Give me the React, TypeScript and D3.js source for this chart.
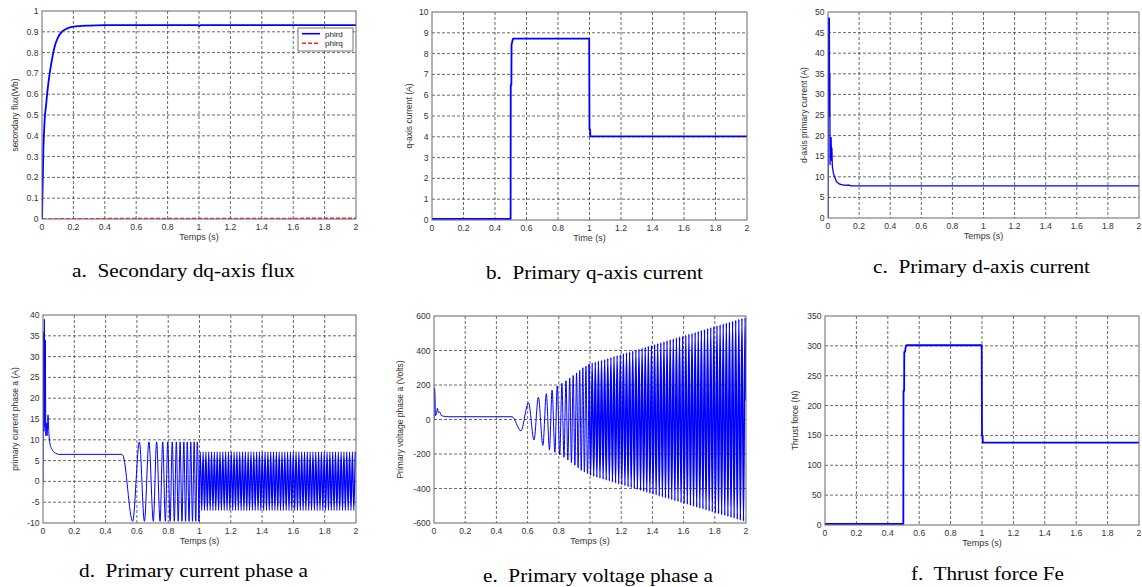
import React from "react";
import * as d3 from "d3";

type Pt = [number, number];

// axis ticks
const timeTicks = [0, 0.2, 0.4, 0.6, 0.8, 1, 1.2, 1.4, 1.6, 1.8, 2];
const fluxTicks = [0, 0.1, 0.2, 0.3, 0.4, 0.5, 0.6, 0.7, 0.8, 0.9, 1];
const iqTicks = [0, 1, 2, 3, 4, 5, 6, 7, 8, 9, 10];
const idTicks = [0, 5, 10, 15, 20, 25, 30, 35, 40, 45, 50];
const iaTicks = [-10, -5, 0, 5, 10, 15, 20, 25, 30, 35, 40];
const vaTicks = [-600, -400, -200, 0, 200, 400, 600];
const feTicks = [0, 50, 100, 150, 200, 250, 300, 350];

// a. secondary flux
const phird: Pt[] = [
  [0, 0], [0.003, 0.12], [0.006, 0.22], [0.0085, 0.33], [0.012, 0.4], [0.019, 0.5],
  [0.025, 0.54], [0.03, 0.58], [0.04, 0.65], [0.051, 0.71], [0.062, 0.76], [0.072, 0.8],
  [0.085, 0.84], [0.1, 0.87], [0.12, 0.895], [0.157, 0.915], [0.2, 0.925], [0.3, 0.93],
  [0.4, 0.932], [0.995, 0.932], [1.0, 0.928], [1.01, 0.932], [2, 0.932],
];
const phirq: Pt[] = [[0, 0], [0.5, 0.002], [2, 0.003]];

// b. q-axis current
const iq: Pt[] = [
  [0, 0.05], [0.499, 0.05], [0.5, 6.5], [0.504, 6.5], [0.505, 8.4], [0.51, 8.6],
  [0.515, 8.72], [0.998, 8.72], [1.0, 4.35], [1.004, 4.35], [1.005, 4.02], [2, 4.02],
];

// c. d-axis current
const id: Pt[] = [
  [0, 0], [0.002, 48.5], [0.009, 48.5], [0.01, 24.5], [0.012, 35], [0.013, 13],
  [0.016, 19.5], [0.02, 19.5], [0.022, 14], [0.025, 17], [0.028, 12.5], [0.034, 11],
  [0.042, 10], [0.055, 8.8], [0.075, 8.2], [0.1, 8.0], [0.14, 7.95], [0.145, 7.8], [2, 7.8],
];

// d. phase a current (extrema)
const iaStart: Pt[] = [
  [0, 0], [0.003, 36], [0.006, 12], [0.009, 39], [0.012, 13], [0.015, 34], [0.018, 11],
  [0.022, 14], [0.026, 11], [0.032, 16], [0.037, 12], [0.045, 9], [0.06, 7.5], [0.08, 6.8],
  [0.1, 6.5], [0.5, 6.5], [0.51, 6.3], [0.573, -9.6], [0.616, 9.5], [0.648, -9.6],
  [0.677, 9.5], [0.705, -9.6], [0.726, 9.5], [0.748, -9.6], [0.765, 9.5], [0.782, -9.6],
  [0.797, 9.5], [0.812, -9.6], [0.826, 9.5], [0.839, -9.6], [0.852, 9.5], [0.864, -9.6],
  [0.876, 9.5], [0.888, -9.6], [0.9, 9.5], [0.911, -9.6], [0.922, 9.5], [0.933, -9.6],
  [0.944, 9.5], [0.955, -9.6], [0.966, 9.5], [0.976, -9.6], [0.986, 9.5], [0.996, -9.6],
];
const iaSteady: Pt[] = [
  [1.005, 7.1], [1.014, -7], [1.023, 7.1], [1.032, -7], [1.041, 7.1], [1.05, -7], [1.059, 7.1], [1.068, -7], [1.077, 7.1], [1.086, -7],
  [1.095, 7.1], [1.104, -7], [1.113, 7.1], [1.122, -7], [1.131, 7.1], [1.14, -7], [1.149, 7.1], [1.158, -7], [1.167, 7.1], [1.176, -7],
  [1.185, 7.1], [1.194, -7], [1.203, 7.1], [1.212, -7], [1.221, 7.1], [1.23, -7], [1.239, 7.1], [1.248, -7], [1.257, 7.1], [1.266, -7],
  [1.275, 7.1], [1.284, -7], [1.293, 7.1], [1.302, -7], [1.311, 7.1], [1.32, -7], [1.329, 7.1], [1.338, -7], [1.347, 7.1], [1.356, -7],
  [1.365, 7.1], [1.374, -7], [1.383, 7.1], [1.392, -7], [1.401, 7.1], [1.41, -7], [1.419, 7.1], [1.428, -7], [1.437, 7.1], [1.446, -7],
  [1.455, 7.1], [1.464, -7], [1.473, 7.1], [1.482, -7], [1.491, 7.1], [1.5, -7], [1.509, 7.1], [1.518, -7], [1.527, 7.1], [1.536, -7],
  [1.545, 7.1], [1.554, -7], [1.563, 7.1], [1.572, -7], [1.581, 7.1], [1.59, -7], [1.599, 7.1], [1.608, -7], [1.617, 7.1], [1.626, -7],
  [1.635, 7.1], [1.644, -7], [1.653, 7.1], [1.662, -7], [1.671, 7.1], [1.68, -7], [1.689, 7.1], [1.698, -7], [1.707, 7.1], [1.716, -7],
  [1.725, 7.1], [1.734, -7], [1.743, 7.1], [1.752, -7], [1.761, 7.1], [1.77, -7], [1.779, 7.1], [1.788, -7], [1.797, 7.1], [1.806, -7],
  [1.815, 7.1], [1.824, -7], [1.833, 7.1], [1.842, -7], [1.851, 7.1], [1.86, -7], [1.869, 7.1], [1.878, -7], [1.887, 7.1], [1.896, -7],
  [1.905, 7.1], [1.914, -7], [1.923, 7.1], [1.932, -7], [1.941, 7.1], [1.95, -7], [1.959, 7.1], [1.968, -7], [1.977, 7.1], [1.986, -7],
  [1.995, 7.1],
];

// e. phase a voltage (extrema)
const vaStart: Pt[] = [
  [0, 0], [0.002, 185], [0.006, 150], [0.009, 22], [0.015, 30], [0.022, 65], [0.028, 40],
  [0.035, 45], [0.045, 26], [0.06, 19], [0.09, 16], [0.5, 16], [0.557, -65], [0.606, 97],
  [0.641, -119], [0.669, 129], [0.698, -150], [0.72, 150], [0.74, -175], [0.757, 170],
  [0.775, -190], [0.79, 195], [0.806, -205], [0.82, 210], [0.833, -220], [0.846, 225],
  [0.858, -235], [0.87, 240], [0.881, -250], [0.892, 255], [0.903, -265], [0.914, 270],
  [0.924, -280], [0.934, 285], [0.944, -295], [0.954, 300], [0.964, -305], [0.974, 310],
  [0.984, -315], [0.994, 320],
];
const vaGrowing: Pt[] = [
  [1.004, -325], [1.014, 328], [1.024, -331], [1.034, 333], [1.044, -336], [1.054, 339], [1.064, -341], [1.074, 344], [1.084, -347], [1.094, 349],
  [1.104, -352], [1.114, 355], [1.124, -357], [1.134, 360], [1.144, -363], [1.154, 366], [1.164, -368], [1.174, 371], [1.184, -374], [1.194, 376],
  [1.204, -379], [1.214, 382], [1.224, -384], [1.234, 387], [1.244, -390], [1.254, 393], [1.264, -395], [1.274, 398], [1.284, -401], [1.294, 403],
  [1.304, -406], [1.314, 409], [1.324, -411], [1.334, 414], [1.344, -417], [1.354, 419], [1.364, -422], [1.374, 425], [1.384, -428], [1.394, 430],
  [1.404, -433], [1.414, 436], [1.424, -438], [1.434, 441], [1.444, -444], [1.454, 446], [1.464, -449], [1.474, 452], [1.484, -455], [1.494, 457],
  [1.504, -460], [1.514, 463], [1.524, -465], [1.534, 468], [1.544, -471], [1.554, 474], [1.564, -476], [1.574, 479], [1.584, -482], [1.594, 484],
  [1.604, -487], [1.614, 490], [1.624, -492], [1.634, 495], [1.644, -498], [1.654, 500], [1.664, -503], [1.674, 506], [1.684, -509], [1.694, 511],
  [1.704, -514], [1.714, 517], [1.724, -519], [1.734, 522], [1.744, -525], [1.754, 528], [1.764, -530], [1.774, 533], [1.784, -536], [1.794, 538],
  [1.804, -541], [1.814, 544], [1.824, -546], [1.834, 549], [1.844, -552], [1.854, 555], [1.864, -557], [1.874, 560], [1.884, -563], [1.894, 565],
  [1.904, -568], [1.914, 571], [1.924, -573], [1.934, 576], [1.944, -579], [1.954, 582], [1.964, -584], [1.974, 587], [1.984, -590], [1.994, 592],
  [2.0, 110],
];

// f. thrust force
const fe: Pt[] = [
  [0, 2], [0.499, 2], [0.5, 225], [0.504, 225], [0.505, 290], [0.51, 290], [0.515, 300],
  [0.52, 301], [0.998, 301], [1.0, 150], [1.004, 150], [1.005, 138], [2, 138],
];

type Series = { data: Pt[]; color: string; width: number; dash?: string; smooth?: boolean };
type Box = { l: number; r: number; t: number; b: number };

const SANS = "Liberation Sans, Arial, sans-serif";
const SERIF = "Liberation Serif, DejaVu Serif, serif";

function Panel(props: {
  id: string;
  box: Box;
  yTicks: number[];
  yLabel: string;
  yLabelX: number;
  xLabel: string;
  caption: string;
  capX: number;
  capY: number;
  capW: number;
  series: Series[];
  legend?: { label: string; color: string; dash?: string }[];
}) {
  const { id, box, yTicks, series } = props;
  const x = d3.scaleLinear().domain([0, 2]).range([box.l, box.r]);
  const y = d3
    .scaleLinear()
    .domain([yTicks[0], yTicks[yTicks.length - 1]])
    .range([box.b, box.t]);

  const line = (s: Series) =>
    d3
      .line<Pt>()
      .x((d) => x(d[0]))
      .y((d) => y(d[1]))
      .curve(s.smooth ? d3.curveMonotoneX : d3.curveLinear)(s.data) || "";

  const midY = (box.t + box.b) / 2;

  return (
    <g>
      <clipPath id={`clip-${id}`}>
        <rect x={box.l} y={box.t} width={box.r - box.l} height={box.b - box.t} />
      </clipPath>
      <rect x={box.l} y={box.t} width={box.r - box.l} height={box.b - box.t} fill="#fff" />
      {timeTicks.slice(1, -1).map((t) => (
        <line key={`gx${t}`} x1={x(t)} x2={x(t)} y1={box.t} y2={box.b}
          stroke="#444" strokeWidth={0.8} strokeDasharray="3,2" />
      ))}
      {yTicks.slice(1, -1).map((v) => (
        <line key={`gy${v}`} x1={box.l} x2={box.r} y1={y(v)} y2={y(v)}
          stroke="#444" strokeWidth={0.8} strokeDasharray="3,2" />
      ))}
      <g clipPath={`url(#clip-${id})`}>
        {series.map((s, i) => (
          <path key={i} d={line(s)} fill="none" stroke={s.color} strokeWidth={s.width}
            strokeDasharray={s.dash} strokeLinejoin="round" />
        ))}
      </g>
      <rect x={box.l} y={box.t} width={box.r - box.l} height={box.b - box.t}
        fill="none" stroke="#666" strokeWidth={1} />
      {timeTicks.map((t) => (
        <text key={`tx${t}`} x={x(t)} y={box.b + 10.5} textAnchor="middle"
          style={{ fontFamily: SANS }} fontSize={8.6} fill="#333">{String(t)}</text>
      ))}
      {yTicks.map((v) => (
        <text key={`ty${v}`} x={box.l - 3.5} y={y(v) + 3} textAnchor="end"
          style={{ fontFamily: SANS }} fontSize={8.6} fill="#333">{String(v)}</text>
      ))}
      <text x={(box.l + box.r) / 2} y={box.b + 20.5} textAnchor="middle"
        style={{ fontFamily: SANS }} fontSize={9} fill="#333">{props.xLabel}</text>
      <text transform={`translate(${props.yLabelX},${midY}) rotate(-90)`} y={3}
        textAnchor="middle" style={{ fontFamily: SANS }} fontSize={8.5} fill="#333">{props.yLabel}</text>
      {props.legend && (
        <g>
          <rect x={box.r - 58} y={box.t + 17} width={55} height={23} fill="#fff"
            stroke="#555" strokeWidth={0.8} />
          {props.legend.map((e, i) => (
            <g key={e.label}>
              <line x1={box.r - 54} x2={box.r - 36} y1={box.t + 22.7 + i * 9.6}
                y2={box.t + 22.7 + i * 9.6} stroke={e.color} strokeWidth={1.6}
                strokeDasharray={e.dash} />
              <text x={box.r - 31} y={box.t + 25.5 + i * 9.6} style={{ fontFamily: SANS }}
                fontSize={8} fill="#222">{e.label}</text>
            </g>
          ))}
        </g>
      )}
      <text x={props.capX} y={props.capY} fontSize={19} fill="#000"
        textLength={props.capW} lengthAdjust="spacingAndGlyphs"
        style={{ whiteSpace: "pre", fontFamily: SERIF }}>{props.caption}</text>
    </g>
  );
}

export default function App() {
  const blue = "#0000ff";
  const red = "#ff2020";
  const iaJoin = iaStart[iaStart.length - 1];
  const vaJoin = vaStart[vaStart.length - 1];
  return (
    <svg width={1142} height={587} style={{ position: "absolute", left: 0, top: 0, background: "#fff" }}>
      <rect width={1142} height={587} fill="#fff" />
      <Panel id="a" box={{ l: 42, r: 356, t: 11, b: 219 }} yTicks={fluxTicks}
        yLabel="secondary flux(Wb)" yLabelX={15} xLabel="Temps (s)"
        caption="a.  Secondary dq-axis flux" capX={72} capY={277} capW={223}
        series={[
          { data: phirq, color: red, width: 1.6, dash: "4,2" },
          { data: phird, color: blue, width: 1.8, smooth: true },
        ]}
        legend={[
          { label: "phird", color: blue },
          { label: "phirq", color: red, dash: "4,2" },
        ]} />
      <Panel id="b" box={{ l: 432, r: 747, t: 12, b: 220 }} yTicks={iqTicks}
        yLabel="q-axis current (A)" yLabelX={409} xLabel="Time (s)"
        caption="b.  Primary q-axis current" capX={486} capY={279} capW={217}
        series={[{ data: iq, color: blue, width: 1.8 }]} />
      <Panel id="c" box={{ l: 828, r: 1139, t: 12, b: 218 }} yTicks={idTicks}
        yLabel="d-axis primary current (A)" yLabelX={804} xLabel="Temps (s)"
        caption="c.  Primary d-axis current" capX={873} capY={273} capW={217}
        series={[{ data: id, color: blue, width: 1.3 }]} />
      <Panel id="d" box={{ l: 43, r: 356, t: 315, b: 523 }} yTicks={iaTicks}
        yLabel="primary current phase a (A)" yLabelX={15} xLabel="Temps (s)"
        caption="d.  Primary current phase a" capX={79} capY={577} capW={229}
        series={[
          { data: iaStart, color: blue, width: 1, smooth: true },
          { data: [iaJoin, ...iaSteady], color: blue, width: 1.3, smooth: true },
        ]} />
      <Panel id="e" box={{ l: 434, r: 746, t: 316, b: 523 }} yTicks={vaTicks}
        yLabel="Primary voltage phase a (Volts)" yLabelX={400} xLabel="Temps (s)"
        caption="e.  Primary voltage phase a" capX={483} capY={582} capW={230}
        series={[
          { data: vaStart, color: blue, width: 1, smooth: true },
          { data: [vaJoin, ...vaGrowing], color: blue, width: 1.5, smooth: true },
        ]} />
      <Panel id="f" box={{ l: 825, r: 1139, t: 316, b: 525 }} yTicks={feTicks}
        yLabel="Thrust force (N)" yLabelX={795} xLabel="Temps (s)"
        caption="f.  Thrust force Fe" capX={911} capY={580} capW={153}
        series={[{ data: fe, color: blue, width: 1.8 }]} />
    </svg>
  );
}
